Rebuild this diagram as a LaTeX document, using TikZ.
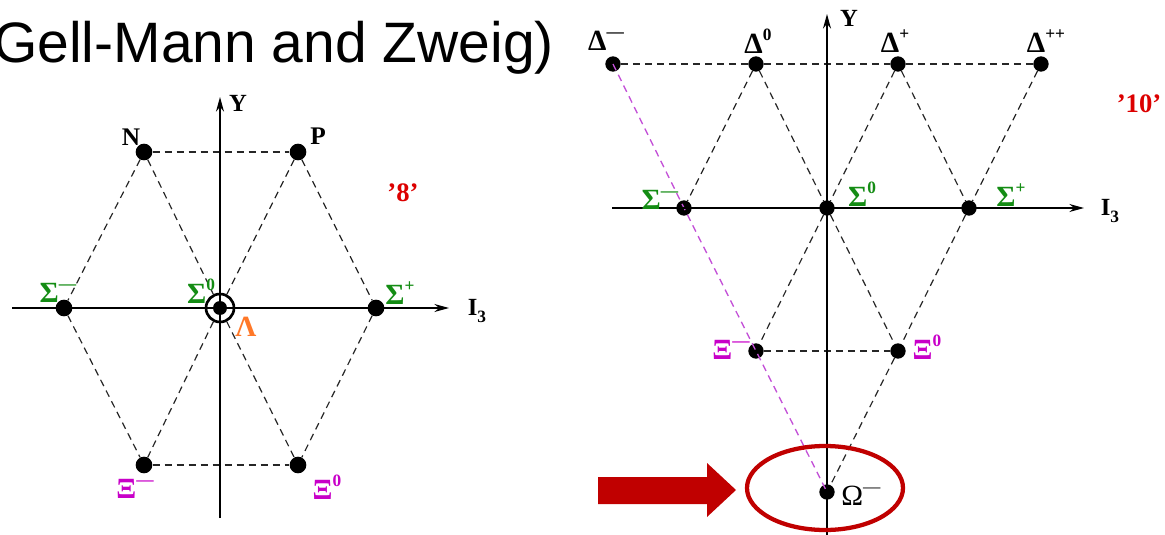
\documentclass[tikz,border=0pt]{standalone}
\usepackage{fontspec}
\setmainfont{Liberation Serif}
\newfontfamily\titlefont{Liberation Sans}
\usetikzlibrary{arrows.meta}
\definecolor{sgreen}{RGB}{20,140,20}
\definecolor{xmag}{RGB}{200,0,200}
\definecolor{lorange}{RGB}{255,120,40}
\definecolor{lred}{RGB}{220,0,0}
\definecolor{dred}{RGB}{192,0,0}
\definecolor{vline}{RGB}{195,80,215}
\newcommand{\up}[1]{\raisebox{0.45em}{\fontsize{13}{13}\selectfont #1}}
\newcommand{\dn}[1]{\raisebox{-0.3em}{\fontsize{13}{13}\selectfont #1}}
\begin{document}
\begin{tikzpicture}[x=0.75pt,y=-0.75pt,
  dot/.style={circle,fill=black,inner sep=0pt,minimum size=12.5pt},
  sdot/.style={circle,fill=black,inner sep=0pt,minimum size=11.5pt},
  dsh/.style={dash pattern=on 5.25pt off 3.75pt,line width=0.9pt,black!85},
  mag/.style={dash pattern=on 5.25pt off 3.75pt,line width=1pt,vline},
  axis/.style={line width=1.1pt,-{Stealth[length=11pt,width=6pt]}},
  lab/.style={font=\fontsize{19}{19}\selectfont\bfseries,inner sep=0pt},
  gk/.style={font=\fontsize{22}{22}\selectfont\bfseries,inner sep=0pt},
  axlab/.style={font=\fontsize{18.5}{18.5}\selectfont\bfseries,inner sep=0pt},
  mult/.style={font=\fontsize{20}{20}\selectfont\bfseries,text=lred,inner sep=0pt}]
\useasboundingbox (0,0) rectangle (1165,535);
% title
\node[anchor=base west,inner sep=0pt,font=\titlefont\fontsize{42.75}{42.75}\selectfont] (title) at (-7,63) {Gell-Mann and Zweig)};

% ---------- left: octet ----------
\node[dot] (N) at (144,152) {};
\node[dot] (P) at (298,152) {};
\node[dot] (SmL) at (64,308) {};
\node[dot] (SpL) at (376,308) {};
\node[draw,circle,line width=2pt,minimum size=21pt,inner sep=0pt] (C) at (220,308) {};
\node[circle,fill=black,inner sep=0pt,minimum size=10.5pt] (Cd) at (220,308) {};
\node[dot] (XmL) at (144,465) {};
\node[dot] (X0L) at (298,465) {};
\draw[dsh] (N) -- (P);
\draw[dsh] (N) -- (SmL);
\draw[dsh] (N) -- (C);
\draw[dsh] (P) -- (C);
\draw[dsh] (P) -- (SpL);
\draw[dsh] (SmL) -- (XmL);
\draw[dsh] (C) -- (XmL);
\draw[dsh] (C) -- (X0L);
\draw[dsh] (SpL) -- (X0L);
\draw[dsh] (XmL) -- (X0L);
\coordinate (Lx0) at (12,308);
\coordinate (Lx1) at (449,308);
\coordinate (Ly0) at (220,518);
\coordinate (Ly1) at (220,97);
\draw[axis] (Lx0) -- (Lx1);
\draw[axis] (Ly0) -- (Ly1);
\node[axlab] (LY) at (238,103) {Y};
\node[axlab] (LI) at (477,311) {I\dn{3}};
\node[lab] (lN) at (131,137) {N};
\node[lab] (lP) at (318,136) {P};
\node[mult] (l8) at (403,193) {’8’};
\node[gk,text=sgreen] (lSmL) at (58,293) {Σ\up{—}};
\node[gk,text=sgreen] (lS0L) at (201,291) {Σ\up{0}};
\node[gk,text=lorange] (lLam) at (246,327) {Λ};
\node[gk,text=sgreen] (lSpL) at (400,293) {Σ\up{+}};
\node[gk,text=xmag] (lXmL) at (135,489) {Ξ\up{—}};
\node[gk,text=xmag] (lX0L) at (327,487) {Ξ\up{0}};

% ---------- right: decuplet ----------
\node[sdot] (Dm) at (613,64) {};
\node[sdot] (D0) at (756,64) {};
\node[sdot] (Dp) at (898,64) {};
\node[sdot] (Dpp) at (1041,64) {};
\node[sdot] (SmR) at (684,208) {};
\node[sdot] (S0R) at (827,208) {};
\node[sdot] (SpR) at (969,208) {};
\node[sdot] (XmR) at (756,351) {};
\node[sdot] (X0R) at (898,351) {};
\node[sdot] (Om) at (827,492) {};
\draw[dsh] (Dm) -- (D0) -- (Dp) -- (Dpp);
\draw[dsh] (XmR) -- (X0R);
\draw[dsh] (D0) -- (SmR);
\draw[dsh] (D0) -- (S0R);
\draw[dsh] (Dp) -- (S0R);
\draw[dsh] (Dp) -- (SpR);
\draw[dsh] (Dpp) -- (SpR);
\draw[dsh] (S0R) -- (XmR);
\draw[dsh] (S0R) -- (X0R);
\draw[dsh] (SpR) -- (X0R);
\draw[dsh] (X0R) -- (Om);
\draw[mag] (Dm.center) -- (SmR.center) -- (XmR.center) -- (Om.center);
\coordinate (Rx0) at (612,208);
\coordinate (Rx1) at (1084,208);
\coordinate (Ry0) at (827,540);
\coordinate (Ry1) at (827,14);
\draw[axis] (Rx0) -- (Rx1);
\draw[axis] (Ry0) -- (Ry1);
\node[axlab] (RY) at (849,18) {Y};
\node[axlab] (RI) at (1110,211) {I\dn{3}};
\node[mult] (l10) at (1139,104) {’10’};
\node[gk] (lDm) at (606,41) {Δ\up{—}};
\node[gk] (lD0) at (758,41) {Δ\up{0}};
\node[gk] (lDp) at (895,41) {Δ\up{+}};
\node[gk] (lDpp) at (1046,41) {Δ\up{++}};
\node[gk,text=sgreen] (lSmR) at (660,200) {Σ\up{—}};
\node[gk,text=sgreen] (lS0R) at (862,194) {Σ\up{0}};
\node[gk,text=sgreen] (lSpR) at (1011,195) {Σ\up{+}};
\node[gk,text=xmag] (lXmR) at (731,350) {Ξ\up{—}};
\node[gk,text=xmag] (lX0R) at (927,347) {Ξ\up{0}};
\node[gk,font=\fontsize{22}{22}\selectfont] (lOm) at (861,496) {Ω\up{—}};

% highlight
\draw[line width=3.2pt,dred] (825,488) ellipse [x radius=78, y radius=42];
\fill[dred] (598,477) -- (707,477) -- (707,463) -- (736,490) -- (707,517) -- (707,504) -- (598,504) -- cycle;
\end{tikzpicture}
\end{document}
